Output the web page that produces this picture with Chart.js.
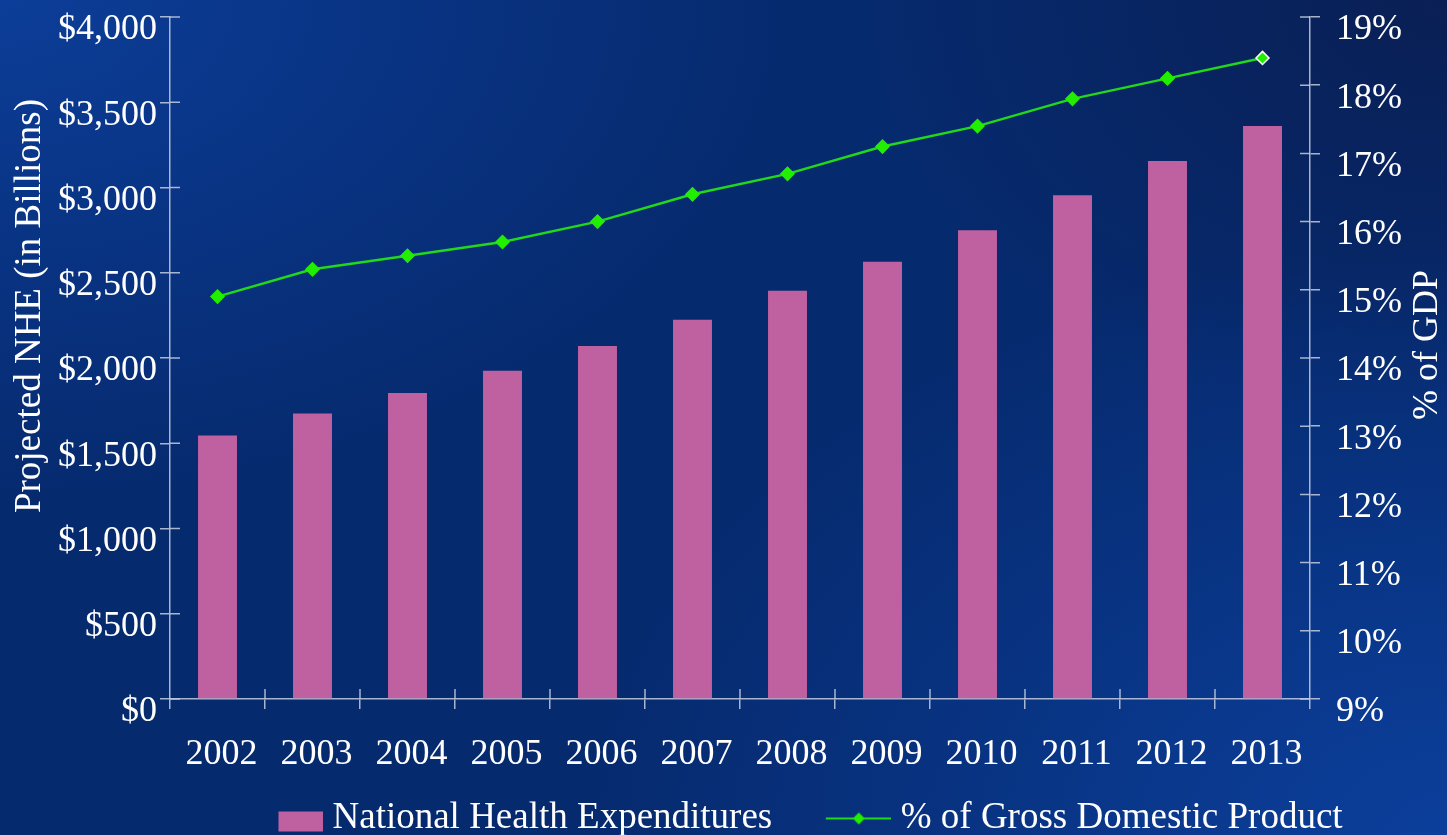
<!DOCTYPE html>
<html>
<head>
<meta charset="utf-8">
<title>Projected National Health Expenditures</title>
<script src="https://cdn.jsdelivr.net/npm/chart.js@4.4.1/dist/chart.umd.min.js"></script>
<style>
  html, body { margin: 0; padding: 0; width: 1447px; height: 835px; overflow: hidden; }
  body {
    background-color: #062a6e;
    background-image:
      radial-gradient(ellipse 60% 70% at 100% 100%, rgba(12,64,158,0.95), rgba(12,64,158,0) 100%),
      radial-gradient(ellipse 55% 60% at 0% 0%, rgba(12,62,154,0.95), rgba(12,62,154,0) 100%),
      radial-gradient(ellipse 40% 50% at 100% 0%, rgba(10,30,82,0.9), rgba(10,30,82,0) 100%);
  }
</style>
</head>
<body>
<canvas id="nheChart" width="1447" height="835"></canvas>
<script>
// data
const years = ["2002", "2003", "2004", "2005", "2006", "2007", "2008", "2009", "2010", "2011", "2012", "2013"];
const nheBillions = [1545, 1675, 1795, 1925, 2070, 2225, 2395, 2565, 2750, 2955, 3155, 3360];
const gdpShare = [14.9, 15.3, 15.5, 15.7, 16.0, 16.4, 16.7, 17.1, 17.4, 17.8, 18.1, 18.4];
const nheTicks = [0, 500, 1000, 1500, 2000, 2500, 3000, 3500, 4000];
const gdpTicks = [9, 10, 11, 12, 13, 14, 15, 16, 17, 18, 19];

const barColor = "#bf60a0";
const lineColor = "#22d81c";
const pointColor = "#22ee00";
const axisColor = "rgba(196,206,224,0.85)";
const serif = '"Liberation Serif", "Times New Roman", serif';

Chart.defaults.font.family = serif;
Chart.defaults.color = "#ffffff";

// legend icons (pink block, line with diamond)
const iconW = 117, iconH = 30;
function makeIcon(draw) {
  const c = document.createElement("canvas");
  c.width = iconW;
  c.height = iconH;
  draw(c.getContext("2d"));
  return c;
}
const barIcon = makeIcon(function (g) {
  g.fillStyle = barColor;
  g.fillRect(iconW - 44, 8, 44, 20);
});
const lineIcon = makeIcon(function (g) {
  g.strokeStyle = lineColor;
  g.lineWidth = 2;
  g.beginPath();
  g.moveTo(iconW - 65, 15);
  g.lineTo(iconW, 15);
  g.stroke();
  g.fillStyle = pointColor;
  const cx = iconW - 32;
  g.beginPath();
  g.moveTo(cx - 6, 15);
  g.lineTo(cx, 9);
  g.lineTo(cx + 6, 15);
  g.lineTo(cx, 21);
  g.closePath();
  g.fill();
});

// short ticks on the inner side of each axis
const innerTicks = {
  id: "innerTicks",
  afterDraw(chart) {
    const { ctx, chartArea, scales } = chart;
    ctx.save();
    ctx.strokeStyle = axisColor;
    ctx.lineWidth = 1.5;
    ctx.beginPath();
    scales.y.ticks.forEach(function (t) {
      const py = scales.y.getPixelForValue(t.value);
      ctx.moveTo(chartArea.left, py);
      ctx.lineTo(chartArea.left + 10, py);
    });
    scales.y1.ticks.forEach(function (t) {
      const py = scales.y1.getPixelForValue(t.value);
      ctx.moveTo(chartArea.right - 10, py);
      ctx.lineTo(chartArea.right, py);
    });
    for (let i = 1; i < years.length; i++) {
      const px = scales.x.getPixelForValue(i - 0.5);
      ctx.moveTo(px, chartArea.bottom);
      ctx.lineTo(px, chartArea.bottom - 10);
    }
    ctx.stroke();
    ctx.restore();
  }
};

// axis titles (both read bottom to top)
const axisTitles = {
  id: "axisTitles",
  afterDraw(chart) {
    const ctx = chart.ctx;
    ctx.save();
    ctx.fillStyle = "#ffffff";
    ctx.font = "37px " + serif;
    ctx.textAlign = "center";
    ctx.textBaseline = "middle";
    ctx.translate(30, 306);
    ctx.rotate(-Math.PI / 2);
    ctx.fillText("Projected NHE (in Billions)", 0, 0);
    ctx.restore();
    ctx.save();
    ctx.fillStyle = "#ffffff";
    ctx.font = "36px " + serif;
    ctx.textAlign = "center";
    ctx.textBaseline = "middle";
    ctx.translate(1428, 345);
    ctx.rotate(-Math.PI / 2);
    ctx.fillText("% of GDP", 0, 0);
    ctx.restore();
  }
};

// nudge the legend row to where the slide has it
const legendPlace = {
  id: "legendPlace",
  afterLayout(chart) {
    const lg = chart.legend;
    const dx = chart.chartArea.left + 34 - lg.left;
    lg.left += dx;
    lg.right += dx;
    lg.top += 12;
    lg.bottom += 12;
  }
};

const ctx = document.getElementById("nheChart").getContext("2d");
new Chart(ctx, {
  type: "bar",
  data: {
    labels: years,
    datasets: [
      {
        type: "bar",
        label: "National Health Expenditures",
        data: nheBillions,
        backgroundColor: barColor,
        borderWidth: 0,
        barPercentage: 0.41,
        categoryPercentage: 1,
        yAxisID: "y"
      },
      {
        type: "line",
        label: "% of Gross Domestic Product",
        data: gdpShare,
        borderColor: lineColor,
        borderWidth: 2.5,
        tension: 0,
        fill: false,
        pointStyle: "rectRot",
        pointRadius: 6.5,
        pointBackgroundColor: pointColor,
        pointBorderColor: gdpShare.map((v, i) => i === gdpShare.length - 1 ? "#ffffff" : pointColor),
        pointBorderWidth: 1.5,
        yAxisID: "y1"
      }
    ]
  },
  options: {
    responsive: false,
    animation: false,
    devicePixelRatio: 1,
    layout: { padding: { top: 17, left: 0, right: 0, bottom: 0 } },
    plugins: {
      tooltip: { enabled: false },
      legend: {
        position: "bottom",
        align: "start",
        labels: {
          color: "#ffffff",
          font: { size: 37, family: serif },
          usePointStyle: true,
          pointStyleWidth: 100,
          padding: 10,
          generateLabels(chart) {
            const items = Chart.defaults.plugins.legend.labels.generateLabels(chart);
            items[0].pointStyle = barIcon;
            items[1].pointStyle = lineIcon;
            return items;
          }
        }
      }
    },
    scales: {
      x: {
        z: 1,
        offset: true,
        grid: { display: true, drawOnChartArea: false, drawTicks: true, tickLength: 10, color: axisColor, lineWidth: 1.5, offset: true },
        border: { display: true, color: axisColor, width: 1.5 },
        ticks: { font: { size: 36 }, color: "#ffffff", padding: 24, labelOffset: 4, maxRotation: 0 },
        afterFit(scale) {
          scale.height = 79;
          scale.paddingLeft = 0;
          scale.paddingRight = 0;
        }
      },
      y: {
        position: "left",
        min: 0,
        max: 4000,
        grid: { display: true, drawOnChartArea: false, drawTicks: true, tickLength: 10, color: axisColor, lineWidth: 1.5 },
        border: { display: true, color: axisColor, width: 1.5 },
        ticks: {
          font: { size: 36 },
          color: "#ffffff",
          padding: 3,
          labelOffset: 13,
          callback: (v) => "$" + v.toLocaleString("en-US")
        },
        afterBuildTicks(scale) {
          scale.ticks = nheTicks.map((v) => ({ value: v }));
        },
        afterFit(scale) {
          scale.width = 170;
          scale.paddingTop = 0;
          scale.paddingBottom = 0;
        }
      },
      y1: {
        position: "right",
        min: 9,
        max: 19,
        grid: { display: true, drawOnChartArea: false, drawTicks: true, tickLength: 10, color: axisColor, lineWidth: 1.5 },
        border: { display: true, color: axisColor, width: 1.5 },
        ticks: {
          font: { size: 36 },
          color: "#ffffff",
          padding: 16,
          labelOffset: 13,
          callback: (v) => v + "%"
        },
        afterBuildTicks(scale) {
          scale.ticks = gdpTicks.map((v) => ({ value: v }));
        },
        afterFit(scale) {
          scale.width = 137;
          scale.paddingTop = 0;
          scale.paddingBottom = 0;
        }
      }
    }
  },
  plugins: [innerTicks, axisTitles, legendPlace]
});
</script>
</body>
</html>
